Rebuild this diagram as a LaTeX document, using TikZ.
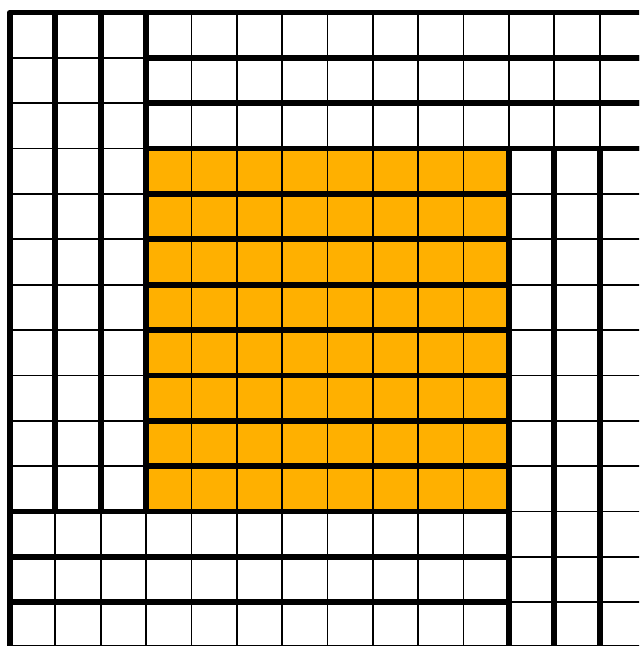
\documentclass[tikz,border=0pt]{standalone}
\begin{document}
\begin{tikzpicture}[x=1cm,y=-1cm,
  thinline/.style={line width=1.1pt,draw=black},
  thickline/.style={line width=3.6pt,draw=black,line join=round},
  orangefill/.style={fill={rgb,255:red,255;green,176;blue,0}}]
\useasboundingbox (-0.2205,-0.2756) rectangle (13.867,14.01);
\clip (-0.2205,-0.2756) rectangle (13.867,13.955);
% orange square rows
\foreach \j in {3,...,10} {
  \fill[orangefill] (3,\j) rectangle (11,\j+1);
  \foreach \x in {4,...,10} \draw[thinline] (\x,\j) -- (\x,\j+1);
}
% left strips
\foreach \i in {0,1,2} {
  \foreach \y in {1,...,10} \draw[thinline] (\i,\y) -- (\i+1,\y);
}
% top strips
\foreach \j in {0,1,2} {
  \foreach \x in {4,...,13} \draw[thinline] (\x,\j) -- (\x,\j+1);
}
% right strips
\foreach \i in {11,12,13} {
  \foreach \y in {4,...,13} \draw[thinline] (\i,\y) -- (\i+1,\y);
}
% bottom strips
\foreach \j in {11,12,13} {
  \foreach \x in {1,...,10} \draw[thinline] (\x,\j) -- (\x,\j+1);
}
% thick outlines
\foreach \j in {3,...,10} \draw[thickline] (3,\j) rectangle (11,\j+1);
\foreach \i in {0,1,2} \draw[thickline] (\i,0) rectangle (\i+1,11);
\foreach \j in {0,1,2} \draw[thickline] (3,\j) rectangle (14,\j+1);
\foreach \i in {11,12,13} \draw[thickline] (\i,3) rectangle (\i+1,14);
\foreach \j in {11,12,13} \draw[thickline] (0,\j) rectangle (11,\j+1);
\end{tikzpicture}
\end{document}
